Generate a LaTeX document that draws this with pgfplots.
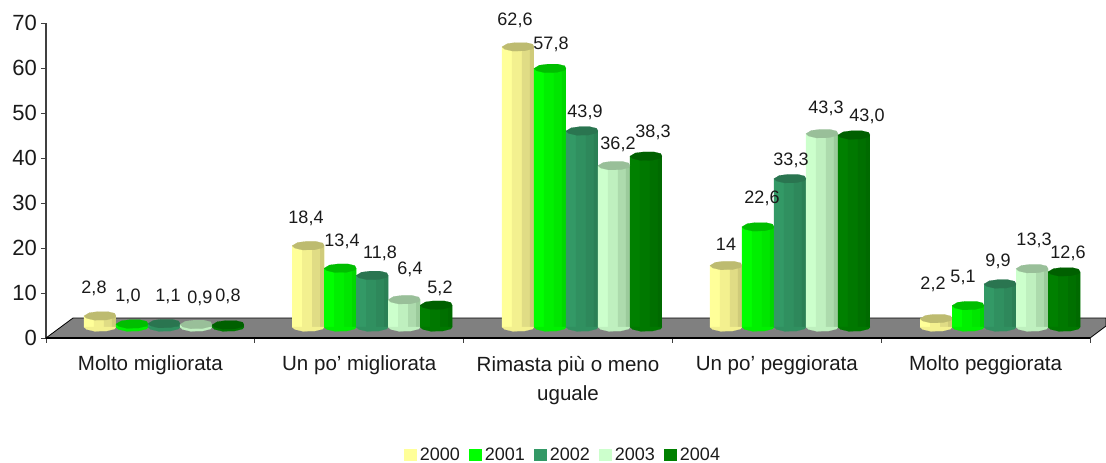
\documentclass[border=0pt]{standalone}
\usepackage{fontspec}
\setmainfont{Liberation Sans}
\usepackage{pgfplots}
\usepackage{pgfplotstable}
\pgfplotsset{compat=1.18}
\definecolor{floorgray}{HTML}{808080}
\definecolor{txt}{HTML}{1A1A1A}
\definecolor{axisc}{HTML}{404040}
\definecolor{ya}{HTML}{FFFF99}\definecolor{yb}{HTML}{F3F08F}\definecolor{yc}{HTML}{E0DC85}\definecolor{yd}{HTML}{CFCB7A}\definecolor{ye}{HTML}{BDBB70}
\definecolor{ga}{HTML}{00FF00}\definecolor{gb}{HTML}{00F000}\definecolor{gc}{HTML}{00E600}\definecolor{gd}{HTML}{00D800}\definecolor{ge}{HTML}{00BE00}
\definecolor{sa}{HTML}{339966}\definecolor{sb}{HTML}{309060}\definecolor{sc}{HTML}{2E885B}\definecolor{sd}{HTML}{2B8055}\definecolor{se}{HTML}{2A7550}
\definecolor{pa}{HTML}{CCFFCC}\definecolor{pb}{HTML}{BFF0BF}\definecolor{pc}{HTML}{ADDBAD}\definecolor{pd}{HTML}{9CCB9C}\definecolor{pe}{HTML}{99BF99}
\definecolor{da}{HTML}{008000}\definecolor{db}{HTML}{007800}\definecolor{dc}{HTML}{007000}\definecolor{dd}{HTML}{006A00}\definecolor{de}{HTML}{006000}
\pgfdeclareplotmark{captop}{%
  \pgfpathmoveto{\pgfqpoint{-12pt}{0pt}}%
  \pgfpathlineto{\pgfqpoint{-8pt}{2.4pt}}%
  \pgfpathlineto{\pgfqpoint{-2pt}{3.2pt}}%
  \pgfpathlineto{\pgfqpoint{6pt}{3.2pt}}%
  \pgfpathlineto{\pgfqpoint{11pt}{2pt}}%
  \pgfpathlineto{\pgfqpoint{12pt}{0pt}}%
  \pgfpathlineto{\pgfqpoint{11pt}{-1.5pt}}%
  \pgfpathlineto{\pgfqpoint{5pt}{-3pt}}%
  \pgfpathlineto{\pgfqpoint{-4pt}{-3.2pt}}%
  \pgfpathlineto{\pgfqpoint{-10pt}{-1.8pt}}%
  \pgfpathclose\pgfusepathqfillstroke}
\pgfdeclareplotmark{capbot}{%
  \pgfpathmoveto{\pgfqpoint{-12pt}{0pt}}%
  \pgfpathlineto{\pgfqpoint{-10pt}{-1.8pt}}%
  \pgfpathlineto{\pgfqpoint{-4pt}{-3.2pt}}%
  \pgfpathlineto{\pgfqpoint{5pt}{-3pt}}%
  \pgfpathlineto{\pgfqpoint{11pt}{-1.5pt}}%
  \pgfpathlineto{\pgfqpoint{12pt}{0pt}}%
  \pgfpathclose\pgfusepathqfillstroke}
\pgfplotstableread{
x     a    b    c    d    e
0.565 2.8  1.0  1.1  0.9  0.8
1.562 18.4 13.4 11.8 6.4  5.2
2.567 62.6 57.8 43.9 36.2 38.3
3.563 14   22.6 33.3 43.3 43.0
4.569 2.2  5.1  9.9  13.3 12.6
}\datatable
\pgfplotstableread{
px py lab
94 288 2,8
128 296 1,0
168 296 1,1
200 298 0,9
228 296 0,8
306 218 18,4
342 241 13,4
380 253 11,8
410 269 6,4
440 288 5,2
515 20 62,6
551 44 57,8
585 112 43,9
618 144 36,2
653 132 38,3
726 244 14
762 198 22,6
791 160 33,3
826 108 43,3
867 116 43,0
933 284 2,2
963 277 5,1
998 261 9,9
1034 240 13,3
1068 253 12,6
}\labtable
% #1 column, #2 shift px, #3 colour prefix, #4 year
\newcommand\cyl[4]{%
  \addplot[forget plot,only marks,mark=capbot,mark options={fill=#3b,draw=#3b,line width=0.1pt,xshift={(#2)*0.75pt}}]
    table[x=x,y expr=0] {\datatable};
  \addplot[ybar,draw=none,fill=#3a,bar width=24pt,bar shift={(#2)*0.75pt},
    legend image code/.code={\fill[#3a] (0pt,-4.6pt) rectangle (9.75pt,4.6pt);}]
    table[x=x,y expr=\thisrow{#1}-0.34] {\datatable};
  \addlegendentry{#4}
  \addplot[forget plot,ybar,draw=none,fill=#3b,bar width=16.5pt,bar shift={(#2+5)*0.75pt}]
    table[x=x,y expr=\thisrow{#1}-0.34] {\datatable};
  \addplot[forget plot,ybar,draw=none,fill=#3c,bar width=9pt,bar shift={(#2+10)*0.75pt}]
    table[x=x,y expr=\thisrow{#1}-0.34] {\datatable};
  \addplot[forget plot,ybar,draw=none,fill=#3d,bar width=3pt,bar shift={(#2+14)*0.75pt}]
    table[x=x,y expr=\thisrow{#1}-0.34] {\datatable};
  \addplot[forget plot,only marks,mark=captop,mark options={fill=#3e,draw=#3e,line width=0.1pt,xshift={(#2)*0.75pt}}]
    table[x=x,y expr=\thisrow{#1}-0.34] {\datatable};
}
\begin{document}
\begin{tikzpicture}
\useasboundingbox (-34.5pt,-93.75pt) rectangle (795pt,253.5pt);
\begin{axis}[
  x=156.6pt, y=3.375pt,
  xmin=0, xmax=5, ymin=-2.44, ymax=67.56,
  clip=false,
  axis x line*=bottom, axis y line*=left,
  axis line style={axisc,line width=0.8pt},
  tick style={axisc,line width=0.7pt},
  major tick length=3.75pt,
  tick align=outside,
  xtick={0,1,2,3,4,5},
  x tick label as interval,
  xticklabels={Molto migliorata,Un po’ migliorata,{Rimasta più o meno\\uguale},Un po’ peggiorata,Molto peggiorata},
  x tick label style={font=\fontsize{15.4}{21.75}\selectfont,align=center,text=txt,anchor=north,yshift=-6.2pt},
  ytick={-2.44,7.56,17.56,27.56,37.56,47.56,57.56,67.56},
  yticklabels={0,10,20,30,40,50,60,70},
  y tick label style={font=\fontsize{16.5}{18}\selectfont,text=txt,xshift=0.5pt},
  legend columns=5,
  legend style={at={(0.4956,-0.372)},anchor=center,draw=none,fill=none,
    font=\fontsize{13.5}{15}\selectfont,text=txt,inner sep=0pt,
    /tikz/every even column/.append style={column sep=5pt}},
]
\addplot[forget plot,fill=floorgray,draw=black,line width=0.6pt] coordinates
  {(0,-2.44) (0.1293,2) (5.0766,2) (5.0766,0.22) (5,-2.44)} -- cycle;
\addplot[forget plot,black,line width=1.3pt] coordinates {(0,-2.44) (5,-2.44)};
\cyl{a}{-64}{y}{2000}
\cyl{b}{-32}{g}{2001}
\cyl{c}{0}{s}{2002}
\cyl{d}{32}{p}{2003}
\cyl{e}{64}{d}{2004}
\addplot[forget plot,only marks,mark=none,draw=none,
  nodes near coords,point meta=explicit symbolic,
  every node near coord/.style={anchor=center,inner sep=0pt,text=txt,font=\fontsize{13.5}{15}\selectfont}]
  table[x expr=(\thisrow{px}-46)/208.8,y expr=(327-\thisrow{py})/4.5,meta=lab] {\labtable};
\end{axis}
\end{tikzpicture}
\end{document}
